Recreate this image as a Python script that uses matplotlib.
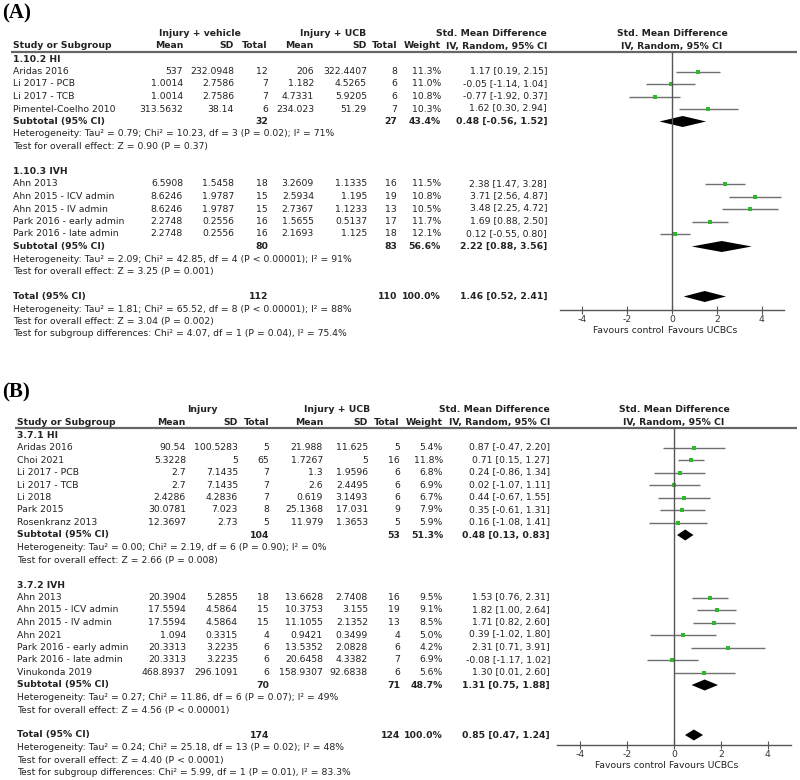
import matplotlib
matplotlib.use('Agg')
import matplotlib.pyplot as plt

# 画布与字体
W, H = 800, 780
plt.rcParams['font.family'] = ['DejaVu Sans']
FS = 6.7
TXT = '#222222'
GREY = '#666666'

# ===== (A) 数据 =====
a_hi_study = ['Aridas 2016', 'Li 2017 - PCB', 'Li 2017 - TCB', 'Pimentel-Coelho 2010']
a_hi_mean1 = ['537', '1.0014', '1.0014', '313.5632']
a_hi_sd1 = ['232.0948', '2.7586', '2.7586', '38.14']
a_hi_n1 = [12, 7, 7, 6]
a_hi_mean2 = ['206', '1.182', '4.7331', '234.023']
a_hi_sd2 = ['322.4407', '4.5265', '5.9205', '51.29']
a_hi_n2 = [8, 6, 6, 7]
a_hi_weight = [11.3, 11.0, 10.8, 10.3]
a_hi_smd = [1.17, -0.05, -0.77, 1.62]
a_hi_lo = [0.19, -1.14, -1.92, 0.30]
a_hi_up = [2.15, 1.04, 0.37, 2.94]
a_hi_sub = [32, 27, 43.4, 0.48, -0.56, 1.52]
a_hi_het = 'Heterogeneity: Tau² = 0.79; Chi² = 10.23, df = 3 (P = 0.02); I² = 71%'
a_hi_z = 'Test for overall effect: Z = 0.90 (P = 0.37)'

a_ivh_study = ['Ahn 2013', 'Ahn 2015 - ICV admin', 'Ahn 2015 - IV admin',
               'Park 2016 - early admin', 'Park 2016 - late admin']
a_ivh_mean1 = ['6.5908', '8.6246', '8.6246', '2.2748', '2.2748']
a_ivh_sd1 = ['1.5458', '1.9787', '1.9787', '0.2556', '0.2556']
a_ivh_n1 = [18, 15, 15, 16, 16]
a_ivh_mean2 = ['3.2609', '2.5934', '2.7367', '1.5655', '2.1693']
a_ivh_sd2 = ['1.1335', '1.195', '1.1233', '0.5137', '1.125']
a_ivh_n2 = [16, 19, 13, 17, 18]
a_ivh_weight = [11.5, 10.8, 10.5, 11.7, 12.1]
a_ivh_smd = [2.38, 3.71, 3.48, 1.69, 0.12]
a_ivh_lo = [1.47, 2.56, 2.25, 0.88, -0.55]
a_ivh_up = [3.28, 4.87, 4.72, 2.50, 0.80]
a_ivh_sub = [80, 83, 56.6, 2.22, 0.88, 3.56]
a_ivh_het = 'Heterogeneity: Tau² = 2.09; Chi² = 42.85, df = 4 (P < 0.00001); I² = 91%'
a_ivh_z = 'Test for overall effect: Z = 3.25 (P = 0.001)'

a_total = [112, 110, 100.0, 1.46, 0.52, 2.41]
a_total_txt = ['Heterogeneity: Tau² = 1.81; Chi² = 65.52, df = 8 (P < 0.00001); I² = 88%',
               'Test for overall effect: Z = 3.04 (P = 0.002)',
               'Test for subgroup differences: Chi² = 4.07, df = 1 (P = 0.04), I² = 75.4%']

# ===== (B) 数据 =====
b_hi_study = ['Aridas 2016', 'Choi 2021', 'Li 2017 - PCB', 'Li 2017 - TCB',
              'Li 2018', 'Park 2015', 'Rosenkranz 2013']
b_hi_mean1 = ['90.54', '5.3228', '2.7', '2.7', '2.4286', '30.0781', '12.3697']
b_hi_sd1 = ['100.5283', '5', '7.1435', '7.1435', '4.2836', '7.023', '2.73']
b_hi_n1 = [5, 65, 7, 7, 7, 8, 5]
b_hi_mean2 = ['21.988', '1.7267', '1.3', '2.6', '0.619', '25.1368', '11.979']
b_hi_sd2 = ['11.625', '5', '1.9596', '2.4495', '3.1493', '17.031', '1.3653']
b_hi_n2 = [5, 16, 6, 6, 6, 9, 5]
b_hi_weight = [5.4, 11.8, 6.8, 6.9, 6.7, 7.9, 5.9]
b_hi_smd = [0.87, 0.71, 0.24, 0.02, 0.44, 0.35, 0.16]
b_hi_lo = [-0.47, 0.15, -0.86, -1.07, -0.67, -0.61, -1.08]
b_hi_up = [2.20, 1.27, 1.34, 1.11, 1.55, 1.31, 1.41]
b_hi_sub = [104, 53, 51.3, 0.48, 0.13, 0.83]
b_hi_het = 'Heterogeneity: Tau² = 0.00; Chi² = 2.19, df = 6 (P = 0.90); I² = 0%'
b_hi_z = 'Test for overall effect: Z = 2.66 (P = 0.008)'

b_ivh_study = ['Ahn 2013', 'Ahn 2015 - ICV admin', 'Ahn 2015 - IV admin', 'Ahn 2021',
               'Park 2016 - early admin', 'Park 2016 - late admin', 'Vinukonda 2019']
b_ivh_mean1 = ['20.3904', '17.5594', '17.5594', '1.094', '20.3313', '20.3313', '468.8937']
b_ivh_sd1 = ['5.2855', '4.5864', '4.5864', '0.3315', '3.2235', '3.2235', '296.1091']
b_ivh_n1 = [18, 15, 15, 4, 6, 6, 6]
b_ivh_mean2 = ['13.6628', '10.3753', '11.1055', '0.9421', '13.5352', '20.6458', '158.9307']
b_ivh_sd2 = ['2.7408', '3.155', '2.1352', '0.3499', '2.0828', '4.3382', '92.6838']
b_ivh_n2 = [16, 19, 13, 4, 6, 7, 6]
b_ivh_weight = [9.5, 9.1, 8.5, 5.0, 4.2, 6.9, 5.6]
b_ivh_smd = [1.53, 1.82, 1.71, 0.39, 2.31, -0.08, 1.30]
b_ivh_lo = [0.76, 1.00, 0.82, -1.02, 0.71, -1.17, 0.01]
b_ivh_up = [2.31, 2.64, 2.60, 1.80, 3.91, 1.02, 2.60]
b_ivh_sub = [70, 71, 48.7, 1.31, 0.75, 1.88]
b_ivh_het = 'Heterogeneity: Tau² = 0.27; Chi² = 11.86, df = 6 (P = 0.07); I² = 49%'
b_ivh_z = 'Test for overall effect: Z = 4.56 (P < 0.00001)'

b_total = [174, 124, 100.0, 0.85, 0.47, 1.24]
b_total_txt = ['Heterogeneity: Tau² = 0.24; Chi² = 25.18, df = 13 (P = 0.02); I² = 48%',
               'Test for overall effect: Z = 4.40 (P < 0.0001)',
               'Test for subgroup differences: Chi² = 5.99, df = 1 (P = 0.01), I² = 83.3%']

ticks = [-4, -2, 0, 2, 4]


def group(title, study, m1, s1, n1, m2, s2, n2, w, smd, lo, up, sub, het, z):
    return dict(title=title, study=study, m1=m1, s1=s1, n1=n1, m2=m2, s2=s2, n2=n2,
                w=w, smd=smd, lo=lo, up=up, sub=sub, het=het, z=z)


def ci_text(est, lo, up):
    return f'{est:.2f} [{lo:.2f}, {up:.2f}]'


def diamond(ax, r, est, lo, up):
    ax.fill([lo, est, up, est], [r, r - 0.44, r, r + 0.44], color='black', lw=0)


def draw_panel(fig, p):
    step = 12.5
    r_top = (p['line_y'] - p['row0_y']) / step
    r_bot = (p['axis_y'] - p['row0_y']) / step
    ry = 1 - p['axis_y'] / H
    rh = (p['axis_y'] - p['line_y']) / H

    # 表格部分
    tab = fig.add_axes([0, ry, 1, rh])
    tab.set_xlim(0, W)
    tab.set_ylim(r_bot, r_top)
    tab.axis('off')
    # 森林图部分
    fx0, fx1 = p['forest_x']
    ax = fig.add_axes([fx0 / W, ry, (fx1 - fx0) / W, rh])
    ax.set_xlim(-5, 5)
    ax.set_ylim(r_bot, r_top)
    ax.patch.set_alpha(0)

    c = p['cols']

    def put(x, r, s, ha='right', bold=False):
        tab.text(x, r, s, ha=ha, va='center', fontsize=FS, color=TXT,
                 fontweight='bold' if bold else 'normal')

    # 表头
    hr1, hr2 = -2.08, -1.04
    put(c['g1'], hr1, p['grp1'], ha='center', bold=True)
    put(c['g2'], hr1, 'Injury + UCB', ha='center', bold=True)
    put(c['ci'], hr1, 'Std. Mean Difference', bold=True)
    put(c['fc'], hr1, 'Std. Mean Difference', ha='center', bold=True)
    put(c['name'], hr2, 'Study or Subgroup', ha='left', bold=True)
    for key, lab in [('m1', 'Mean'), ('s1', 'SD'), ('n1', 'Total'),
                     ('m2', 'Mean'), ('s2', 'SD'), ('n2', 'Total'), ('w', 'Weight')]:
        put(c[key], hr2, lab, bold=True)
    put(c['ci'], hr2, 'IV, Random, 95% CI', bold=True)
    put(c['fc'], hr2, 'IV, Random, 95% CI', ha='center', bold=True)
    tab.plot([c['name'] - 2, 797], [r_top, r_top], color=GREY, lw=1.6,
             clip_on=False, solid_capstyle='butt')

    r = 0
    for g in p['groups']:
        put(c['name'], r, g['title'], ha='left', bold=True)
        r += 1
        rows = []
        for i, name in enumerate(g['study']):
            put(c['name'], r, name, ha='left')
            put(c['m1'], r, g['m1'][i])
            put(c['s1'], r, g['s1'][i])
            put(c['n1'], r, str(g['n1'][i]))
            put(c['m2'], r, g['m2'][i])
            put(c['s2'], r, g['s2'][i])
            put(c['n2'], r, str(g['n2'][i]))
            put(c['w'], r, f"{g['w'][i]:.1f}%")
            put(c['ci'], r, ci_text(g['smd'][i], g['lo'][i], g['up'][i]))
            rows.append(r)
            r += 1
        ax.hlines(rows, g['lo'], g['up'], color='#707070', lw=1.0)
        ax.plot(g['smd'], rows, 's', color='#2fb82f', ms=2.6, mew=0)
        n1, n2, w, est, lo, up = g['sub']
        put(c['name'], r, 'Subtotal (95% CI)', ha='left', bold=True)
        put(c['n1'], r, str(n1), bold=True)
        put(c['n2'], r, str(n2), bold=True)
        put(c['w'], r, f'{w:.1f}%', bold=True)
        put(c['ci'], r, ci_text(est, lo, up), bold=True)
        diamond(ax, r, est, lo, up)
        r += 1
        put(c['name'], r, g['het'], ha='left')
        put(c['name'], r + 1, g['z'], ha='left')
        r += 3

    n1, n2, w, est, lo, up = p['total']
    put(c['name'], r, 'Total (95% CI)', ha='left', bold=True)
    put(c['n1'], r, str(n1), bold=True)
    put(c['n2'], r, str(n2), bold=True)
    put(c['w'], r, f'{w:.1f}%', bold=True)
    put(c['ci'], r, ci_text(est, lo, up), bold=True)
    diamond(ax, r, est, lo, up)
    for k, s in enumerate(p['total_txt']):
        put(c['name'], r + 1 + k, s, ha='left')

    # 坐标轴
    ax.axvline(0, color='#555555', lw=1.0)
    for side in ['top', 'right', 'left']:
        ax.spines[side].set_visible(False)
    ax.spines['bottom'].set_color('#555555')
    ax.spines['bottom'].set_linewidth(1.0)
    ax.set_yticks([])
    ax.set_xticks(ticks)
    ax.set_xticklabels([str(t) for t in ticks])
    ax.tick_params(axis='x', direction='inout', length=6, width=0.8, color='#555555',
                   labelsize=FS, labelcolor='#333333', pad=0.5)
    ax.annotate('Favours control', xy=(-0.35, 0), xycoords=('data', 'axes fraction'),
                xytext=(0, -14.5), textcoords='offset points', ha='right', va='center',
                fontsize=FS, color=TXT)
    ax.annotate('Favours UCBCs', xy=(-0.2, 0), xycoords=('data', 'axes fraction'),
                xytext=(0, -14.5), textcoords='offset points', ha='left', va='center',
                fontsize=FS, color=TXT)

    fig.text(2 / W, 1 - p['label_y'] / H, p['label'], ha='left', va='center',
             fontsize=15, fontweight='bold', family='Liberation Serif', color='black')


fig = plt.figure(figsize=(W / 100, H / 100), dpi=100)

panel_a = dict(
    label='(A)', label_y=13, grp1='Injury + vehicle',
    line_y=52, row0_y=59, axis_y=310, forest_x=(560, 784),
    cols=dict(name=13, m1=183, s1=234, n1=268, m2=314, s2=367, n2=397, w=441, ci=547,
              g1=200, g2=333, fc=672),
    groups=[group('1.10.2 HI', a_hi_study, a_hi_mean1, a_hi_sd1, a_hi_n1, a_hi_mean2,
                  a_hi_sd2, a_hi_n2, a_hi_weight, a_hi_smd, a_hi_lo, a_hi_up, a_hi_sub,
                  a_hi_het, a_hi_z),
            group('1.10.3 IVH', a_ivh_study, a_ivh_mean1, a_ivh_sd1, a_ivh_n1, a_ivh_mean2,
                  a_ivh_sd2, a_ivh_n2, a_ivh_weight, a_ivh_smd, a_ivh_lo, a_ivh_up,
                  a_ivh_sub, a_ivh_het, a_ivh_z)],
    total=a_total, total_txt=a_total_txt)

panel_b = dict(
    label='(B)', label_y=392, grp1='Injury',
    line_y=428, row0_y=435, axis_y=745, forest_x=(557, 791),
    cols=dict(name=17, m1=186, s1=238, n1=269, m2=323, s2=368, n2=400, w=443, ci=550,
              g1=202, g2=337, fc=674),
    groups=[group('3.7.1 HI', b_hi_study, b_hi_mean1, b_hi_sd1, b_hi_n1, b_hi_mean2,
                  b_hi_sd2, b_hi_n2, b_hi_weight, b_hi_smd, b_hi_lo, b_hi_up, b_hi_sub,
                  b_hi_het, b_hi_z),
            group('3.7.2 IVH', b_ivh_study, b_ivh_mean1, b_ivh_sd1, b_ivh_n1, b_ivh_mean2,
                  b_ivh_sd2, b_ivh_n2, b_ivh_weight, b_ivh_smd, b_ivh_lo, b_ivh_up,
                  b_ivh_sub, b_ivh_het, b_ivh_z)],
    total=b_total, total_txt=b_total_txt)

draw_panel(fig, panel_a)
draw_panel(fig, panel_b)

fig.savefig('out.png', dpi=100, facecolor='white')
